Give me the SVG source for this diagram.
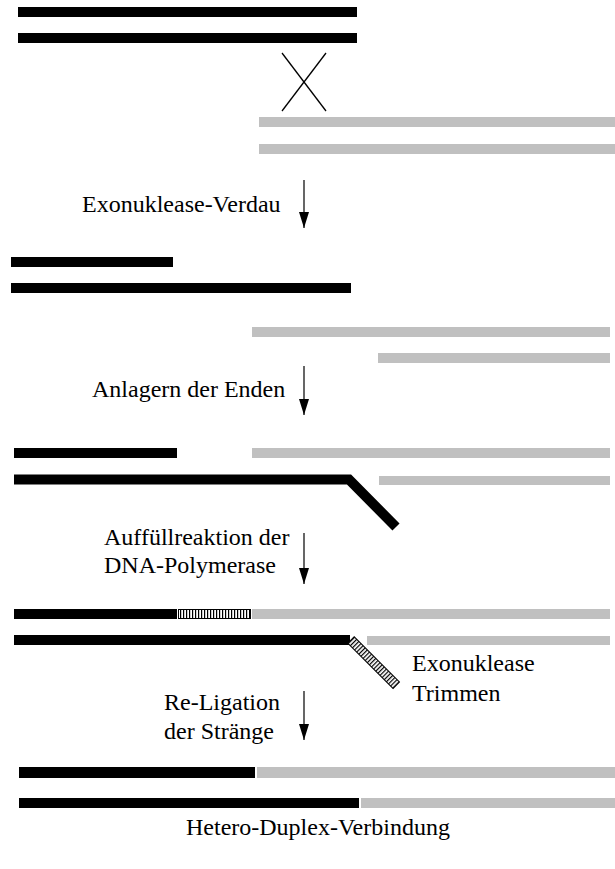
<svg xmlns="http://www.w3.org/2000/svg" width="615" height="869" viewBox="0 0 615 869">
<style>
.b{fill:#000}
.g{fill:#c0c0c0}
.h{fill:url(#hatch);stroke:#000;stroke-width:1}
.t{font-family:"Liberation Serif","Times New Roman",serif;font-size:24px;fill:#000}
.arr{stroke:#000;stroke-width:1.2;fill:none;marker-end:url(#ah)}
</style>
<defs>
<pattern id="hatch" patternUnits="userSpaceOnUse" width="3" height="10">
<rect width="3" height="10" fill="#fff"/>
<rect width="1.2" height="10" fill="#000"/>
</pattern>
<marker id="ah" markerUnits="userSpaceOnUse" markerWidth="16" markerHeight="10" refX="16" refY="5" orient="auto">
<path d="M0,0 L16,5 L0,10 z" fill="#000"/>
</marker>
</defs>
<rect width="615" height="869" fill="#fff"/>

<g id="step1">
<rect class="b" x="18" y="7" width="339" height="10"/>
<rect class="b" x="18" y="33" width="339" height="10"/>
<g id="cross" stroke="#000" stroke-width="1.3">
<line x1="282" y1="53" x2="326" y2="111"/>
<line x1="326" y1="53" x2="282" y2="111"/>
</g>
<rect class="g" x="259" y="117" width="356" height="10"/>
<rect class="g" x="259" y="144" width="356" height="10"/>
</g>

<g id="step2">
<rect class="b" x="11" y="257" width="162" height="10"/>
<rect class="b" x="11" y="283" width="340" height="10"/>
<rect class="g" x="252" y="327" width="358" height="10"/>
<rect class="g" x="378" y="353" width="232" height="10"/>
</g>

<g id="step3">
<rect class="b" x="14" y="448" width="163" height="10"/>
<rect class="g" x="252" y="448" width="358" height="10"/>
<polyline points="14,479.5 349,479.5 396,527" fill="none" stroke="#000" stroke-width="10" stroke-linejoin="miter"/>
<rect class="g" x="379" y="476" width="231" height="9"/>
</g>

<g id="step4">
<rect class="b" x="14" y="609" width="163" height="10"/>
<rect class="h" x="178.5" y="609.5" width="72" height="9"/>
<rect class="g" x="252" y="609" width="358" height="10"/>
<rect class="b" x="14" y="635" width="336" height="10"/>
<g transform="translate(351,640) rotate(45)">
<rect class="h" x="0" y="-4.5" width="64" height="9"/>
</g>
<rect class="g" x="367" y="636" width="243" height="9"/>
</g>

<g id="step5">
<rect class="b" x="19" y="767" width="236" height="11"/>
<rect class="g" x="257" y="767" width="358" height="11"/>
<rect class="b" x="19" y="798" width="340" height="10"/>
<rect class="g" x="361" y="798" width="254" height="10"/>
</g>

<g id="connectors">
<line class="arr" x1="304" y1="180" x2="304" y2="228"/>
<line class="arr" x1="304" y1="366" x2="304" y2="415"/>
<line class="arr" x1="304" y1="533" x2="304" y2="584"/>
<line class="arr" x1="304" y1="691" x2="304" y2="740"/>
</g>

<g id="labels">
<text class="t" x="82" y="212">Exonuklease-Verdau</text>
<text class="t" x="92" y="397">Anlagern der Enden</text>
<text class="t" x="104" y="545">Auffüllreaktion der</text>
<text class="t" x="104" y="573">DNA-Polymerase</text>
<text class="t" x="412" y="671">Exonuklease</text>
<text class="t" x="412" y="701">Trimmen</text>
<text class="t" x="164" y="710">Re-Ligation</text>
<text class="t" x="164" y="739">der Stränge</text>
<text class="t" x="186" y="835">Hetero-Duplex-Verbindung</text>
</g>
</svg>
